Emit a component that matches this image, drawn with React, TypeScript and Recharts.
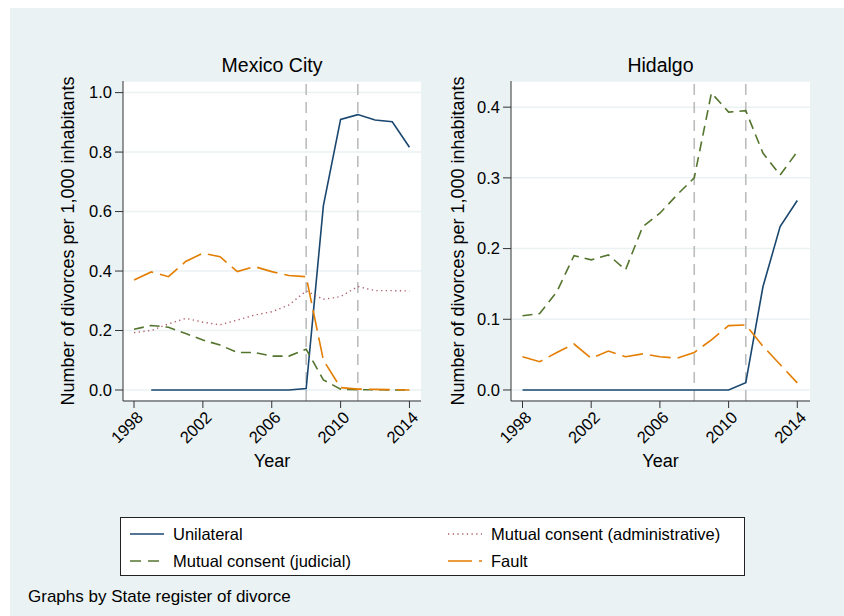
import React from 'react';
import { LineChart, Line, XAxis, YAxis, CartesianGrid, ReferenceLine } from 'recharts';

const years = [1998, 1999, 2000, 2001, 2002, 2003, 2004, 2005, 2006, 2007, 2008, 2009, 2010, 2011, 2012, 2013, 2014];
const yearTicks = [1998, 2002, 2006, 2010, 2014];
const reformYears = [2008, 2011];

// Mexico City
const unilateralMX = [null, 0, 0, 0, 0, 0, 0, 0, 0, 0, 0.005, 0.62, 0.91, 0.926, 0.908, 0.902, 0.816];
const judicialMX = [0.204, 0.217, 0.211, 0.19, 0.168, 0.151, 0.126, 0.126, 0.114, 0.114, 0.137, 0.034, 0.003, 0.001, 0.001, 0.0, 0.0];
const adminMX = [0.193, 0.2, 0.222, 0.241, 0.228, 0.219, 0.235, 0.252, 0.263, 0.286, 0.333, 0.305, 0.314, 0.348, 0.334, 0.334, 0.333];
const faultMX = [0.37, 0.397, 0.381, 0.432, 0.46, 0.448, 0.398, 0.415, 0.398, 0.385, 0.381, 0.1, 0.008, 0.003, 0.002, 0.001, 0.0];
const ticksMX = [0, 0.2, 0.4, 0.6, 0.8, 1.0];

// Hidalgo
const unilateralHG = [0, 0, 0, 0, 0, 0, 0, 0, 0, 0, 0, 0, 0, 0.0104, 0.146, 0.231, 0.268];
const judicialHG = [0.105, 0.108, 0.139, 0.19, 0.184, 0.191, 0.17, 0.231, 0.25, 0.276, 0.3, 0.42, 0.393, 0.395, 0.335, 0.304, 0.337];
const faultHG = [0.047, 0.04, 0.053, 0.065, 0.045, 0.055, 0.047, 0.051, 0.047, 0.045, 0.053, 0.071, 0.091, 0.092, 0.062, 0.036, 0.01];
const ticksHG = [0, 0.1, 0.2, 0.3, 0.4];

const FONT = '"Liberation Sans", Arial, Helvetica, sans-serif';
const BG = '#EAF2F3';
const C_UNI = '#1A476F';
const C_JUD = '#55752F';
const C_ADM = '#B0606A';
const C_FAULT = '#E37E00';
const YLABEL = 'Number of divorces per 1,000 inhabitants';

const mxData = years.map((year, i) => ({
  year,
  unilateral: unilateralMX[i],
  judicial: judicialMX[i],
  admin: adminMX[i],
  fault: faultMX[i],
}));

const hgData = years.map((year, i) => ({
  year,
  unilateral: unilateralHG[i],
  judicial: judicialHG[i],
  fault: faultHG[i],
}));

const XTick = (props: any) => {
  const { x, y, payload } = props;
  const ax = x + 1.5;
  return (
    <text
      x={ax}
      y={y}
      transform={`rotate(-45, ${ax}, ${y})`}
      textAnchor="end"
      dy="0.72em"
      fontSize={16.5}
      fontFamily={FONT}
      fill="#000"
    >
      {payload.value}
    </text>
  );
};

type PanelProps = {
  data: any[];
  left: number;
  width: number;
  yAxisWidth: number;
  rightMargin: number;
  labelOffset: number;
  yDomain: [number, number];
  xDomain: [number, number];
  yTicks: number[];
  showAdmin: boolean;
};

const Panel = (p: PanelProps) => (
  <div style={{ position: 'absolute', left: p.left, top: 8 }}>
    <LineChart
      width={p.width}
      height={472}
      data={p.data}
      margin={{ top: 73, right: p.rightMargin, left: 0, bottom: 0 }}
      style={{ background: 'transparent' }}
    >
      <CartesianGrid vertical={false} stroke={BG} strokeWidth={1.5} fill="#fff" />
      <XAxis
        dataKey="year"
        type="number"
        domain={p.xDomain}
        ticks={yearTicks}
        allowDataOverflow
        height={79}
        tickSize={7}
        tickMargin={2}
        tick={<XTick />}
        axisLine={{ stroke: '#333', strokeWidth: 1 }}
        tickLine={{ stroke: '#333', strokeWidth: 1 }}
        label={{ value: 'Year', position: 'insideBottom', offset: 12.6, style: { fontSize: 18, fontFamily: FONT, fill: '#000' } }}
      />
      <YAxis
        type="number"
        domain={p.yDomain}
        ticks={p.yTicks}
        allowDataOverflow
        width={p.yAxisWidth}
        tickSize={8}
        tickMargin={3}
        tickFormatter={(v: number) => v.toFixed(1)}
        tick={{ fill: '#000', fontSize: 16.5, fontFamily: FONT }}
        axisLine={{ stroke: '#333', strokeWidth: 1 }}
        tickLine={{ stroke: '#333', strokeWidth: 1 }}
        label={{
          value: YLABEL,
          angle: -90,
          position: 'insideLeft',
          offset: p.labelOffset,
          style: { textAnchor: 'middle', fontSize: 18, fontFamily: FONT, fill: '#000' },
        }}
      />
      {reformYears.map((yr) => (
        <ReferenceLine key={yr} x={yr} stroke="#BDBDBD" strokeWidth={1.6} strokeDasharray="11 7" />
      ))}
      <Line type="linear" dataKey="unilateral" stroke={C_UNI} strokeWidth={1.6} dot={false} isAnimationActive={false} />
      <Line type="linear" dataKey="judicial" stroke={C_JUD} strokeWidth={1.6} strokeDasharray="10 6" dot={false} isAnimationActive={false} />
      {p.showAdmin && (
        <Line type="linear" dataKey="admin" stroke={C_ADM} strokeWidth={1.4} strokeDasharray="1.3 3.4" dot={false} isAnimationActive={false} />
      )}
      <Line type="linear" dataKey="fault" stroke={C_FAULT} strokeWidth={1.6} strokeDasharray="21 7" dot={false} isAnimationActive={false} />
    </LineChart>
  </div>
);

const LegendIcon = ({ color, dash, width }: { color: string; dash?: string; width: number }) => (
  <svg width={36} height={10} style={{ display: 'block' }}>
    <line x1={0} y1={5} x2={34} y2={5} stroke={color} strokeWidth={width} strokeDasharray={dash} />
  </svg>
);

const legendItems = [
  { name: 'Unilateral', color: C_UNI, dash: undefined, width: 1.6, x: 130, y: 534 },
  { name: 'Mutual consent (administrative)', color: C_ADM, dash: '1.3 3.4', width: 1.4, x: 448, y: 534 },
  { name: 'Mutual consent (judicial)', color: C_JUD, dash: '11 7', width: 1.6, x: 130, y: 561 },
  { name: 'Fault', color: C_FAULT, dash: '24 7', width: 1.6, x: 448, y: 561 },
];

export default function App() {
  return (
    <div style={{ position: 'absolute', left: 0, top: 0, width: 844, height: 616, background: '#fff', fontFamily: FONT, overflow: 'hidden' }}>
      <div style={{ position: 'absolute', left: 10, top: 8, right: 0, bottom: 0, background: BG }} />
      <div style={{ position: 'absolute', left: 123, width: 298, top: 53, textAlign: 'center', fontSize: 19.5, lineHeight: '24px', color: '#000' }}>
        Mexico City
      </div>
      <div style={{ position: 'absolute', left: 511, width: 299, top: 53, textAlign: 'center', fontSize: 19.5, lineHeight: '24px', color: '#000' }}>
        Hidalgo
      </div>
      <Panel
        data={mxData}
        left={10}
        width={430}
        yAxisWidth={113}
        rightMargin={19}
        labelOffset={58}
        yDomain={[-0.037, 1.039]}
        xDomain={[1997.36, 2014.67]}
        yTicks={ticksMX}
        showAdmin
      />
      <Panel
        data={hgData}
        left={440}
        width={404}
        yAxisWidth={71}
        rightMargin={34}
        labelOffset={18}
        yDomain={[-0.0156, 0.437]}
        xDomain={[1997.33, 2014.74]}
        yTicks={ticksHG}
        showAdmin={false}
      />
      <div style={{ position: 'absolute', left: 120, top: 517, width: 623, height: 57, background: '#fff', border: '1.5px solid #222' }} />
      {legendItems.map((it) => (
        <div key={it.name} style={{ position: 'absolute', left: it.x, top: it.y - 12, height: 24, display: 'flex', alignItems: 'center', fontSize: 16.5, color: '#000', whiteSpace: 'nowrap' }}>
          <LegendIcon color={it.color} dash={it.dash} width={it.width} />
          <span style={{ marginLeft: 7 }}>{it.name}</span>
        </div>
      ))}
      <div style={{ position: 'absolute', left: 28, top: 585, fontSize: 17, lineHeight: '24px', color: '#000', whiteSpace: 'nowrap' }}>
        Graphs by State register of divorce
      </div>
    </div>
  );
}
